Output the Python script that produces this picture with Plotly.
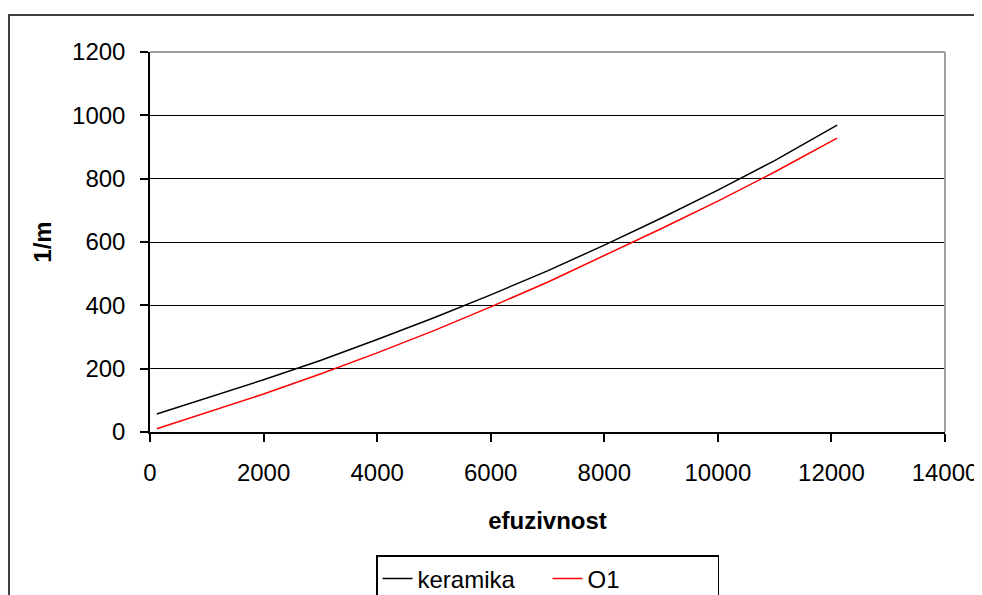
import plotly.graph_objects as go

efuzivnost = [120, 1000, 2000, 3000, 4000, 5000, 6000, 7000, 8000, 9000, 10000, 11000, 12100]
keramika = [57, 108, 165, 226, 292, 361, 433, 509, 590, 675, 764, 857, 969]
o1 = [10, 62, 120, 183, 250, 320, 395, 473, 557, 642, 729, 821, 928]

x_ticks = [0, 2000, 4000, 6000, 8000, 10000, 12000, 14000]
y_ticks = [0, 200, 400, 600, 800, 1000, 1200]

FONT = "Liberation Sans, Arial, sans-serif"

fig = go.Figure()
fig.add_trace(go.Scatter(x=efuzivnost, y=keramika, mode="lines", name="keramika",
                         line=dict(color="black", width=1.5)))
fig.add_trace(go.Scatter(x=efuzivnost, y=o1, mode="lines", name="O1",
                         line=dict(color="#FF0000", width=1.5)))

W, H = 982, 595
L, T = 142, 44
pw, ph = 795, 380
R = W - L - pw
B = H - T - ph

fig.update_layout(
    width=W, height=H,
    margin=dict(l=L, r=R, t=T, b=B, autoexpand=False),
    paper_bgcolor="white", plot_bgcolor="white",
    font=dict(family=FONT, size=24, color="black"),
    showlegend=True,
    legend=dict(orientation="h", x=0.5, xanchor="center", y=-(547 - (T + ph)) / ph,
                yanchor="top", bordercolor="black", borderwidth=1.5,
                font=dict(size=24, color="black"), bgcolor="white",
                itemwidth=30, entrywidth=125, tracegroupgap=0),
    xaxis=dict(range=[0, 14000], tickvals=x_ticks, ticktext=[str(v) for v in x_ticks],
               showgrid=False, zeroline=False, showline=True, linecolor="black", linewidth=1.5,
               ticks="outside", ticklen=8, tickcolor="black", tickwidth=1.5,
               ticklabelstandoff=10,
               title=dict(text="<b>efuzivnost</b>", font=dict(size=24), standoff=28)),
    yaxis=dict(range=[0, 1200], tickvals=y_ticks, ticktext=[str(v) for v in y_ticks],
               showgrid=True, gridcolor="black", gridwidth=1.2, zeroline=False,
               showline=True, linecolor="black", linewidth=1.5,
               ticks="outside", ticklen=8, tickcolor="black", tickwidth=1.5,
               ticklabelstandoff=10,
               title=dict(text="<b>1/m</b>", font=dict(size=24), standoff=14)),
)

# gray frame on top and right of plot area
fig.add_shape(type="line", xref="paper", yref="paper", x0=0, x1=1, y0=1, y1=1,
              line=dict(color="#A0A0A0", width=2), layer="above")
fig.add_shape(type="line", xref="paper", yref="paper", x0=1, x1=1, y0=0, y1=1,
              line=dict(color="#A0A0A0", width=2), layer="above")
# outer chart border
fig.add_shape(type="rect", xref="paper", yref="paper",
              x0=(1 - L) / pw, x1=(W + 20 - L) / pw,
              y0=-(B + 20) / ph, y1=1 + (T - 7) / ph,
              line=dict(color="#404040", width=2), layer="below")

fig.write_html("out.html")
